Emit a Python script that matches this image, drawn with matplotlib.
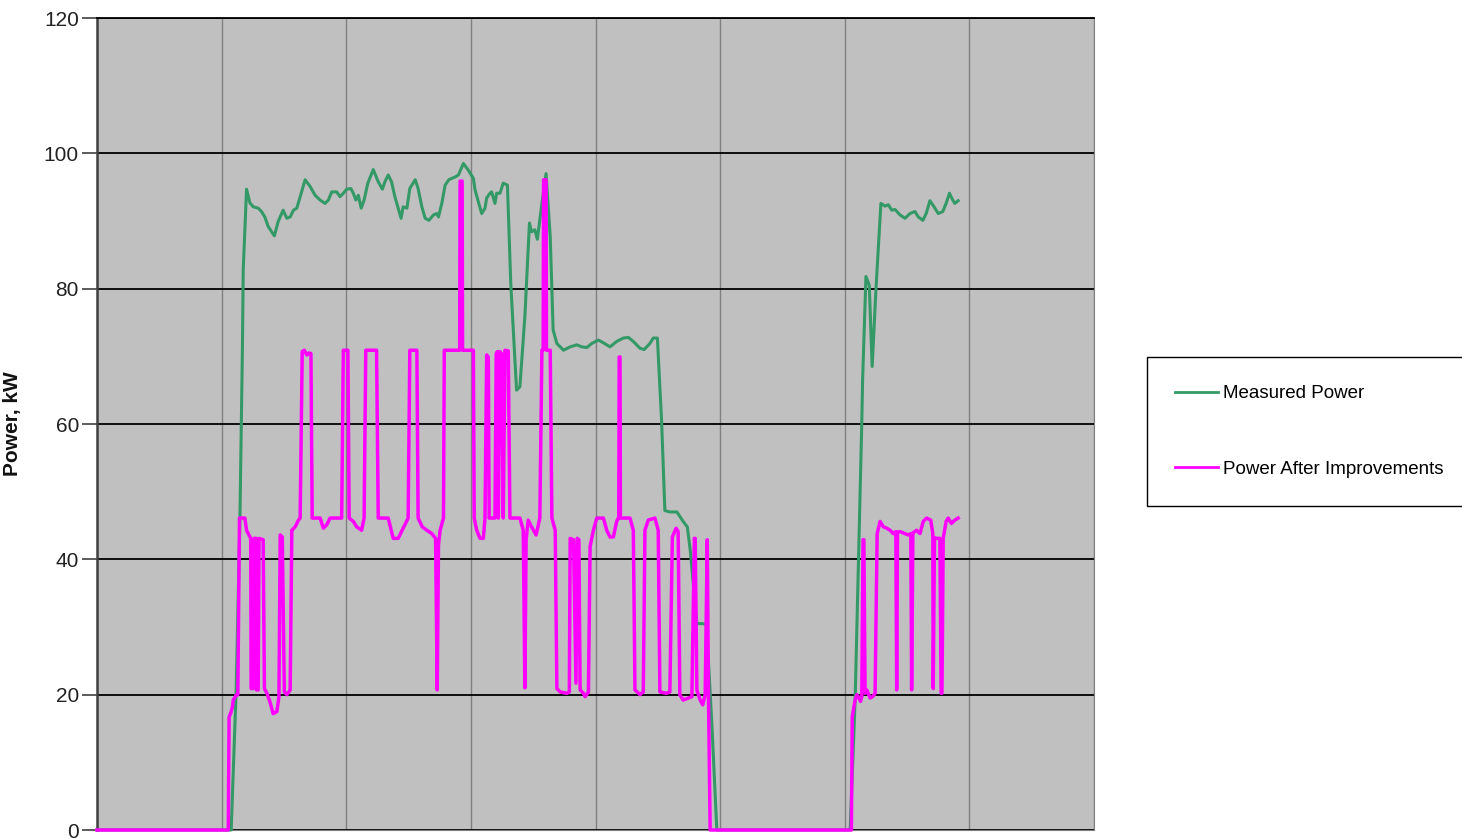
import numpy as np
import matplotlib
matplotlib.use("Agg")
import matplotlib.pyplot as plt

plt.rcParams['font.family'] = ['Liberation Sans', 'DejaVu Sans']

# (hour, kW)
measured_power = [
    (0, 0), (3.23, 0), (3.35, 20.7), (3.44, 45.8), (3.50, 70.9), (3.52, 82.8), (3.60, 94.7),
    (3.68, 92.7), (3.76, 92.1), (3.88, 91.9), (3.96, 91.4), (4.04, 90.6), (4.12, 89.2), (4.27, 87.8),
    (4.36, 89.9), (4.48, 91.6), (4.57, 90.4), (4.65, 90.6), (4.73, 91.6), (4.81, 91.9), (4.89, 93.6),
    (5.01, 96.1), (5.13, 95.1), (5.25, 93.8), (5.37, 93.1), (5.49, 92.6), (5.57, 93.1), (5.65, 94.3),
    (5.77, 94.3), (5.85, 93.6), (5.93, 94.1), (6.01, 94.7), (6.11, 94.8), (6.17, 94.1), (6.23, 93.1),
    (6.29, 93.8), (6.36, 91.9), (6.43, 93.1), (6.52, 95.6), (6.65, 97.6), (6.77, 95.8), (6.87, 94.7),
    (6.93, 95.8), (7.01, 96.8), (7.09, 95.8), (7.17, 93.6), (7.25, 91.9), (7.32, 90.4), (7.37, 92.1),
    (7.46, 91.9), (7.53, 94.8), (7.66, 96.1), (7.73, 94.8), (7.82, 92.1), (7.90, 90.4), (7.99, 90.1),
    (8.10, 90.9), (8.18, 91.1), (8.22, 90.6), (8.30, 92.6), (8.38, 95.3), (8.47, 96.1), (8.54, 96.3),
    (8.62, 96.5), (8.70, 96.8), (8.82, 98.5), (8.94, 97.5), (9.06, 96.3), (9.10, 94.6), (9.26, 91.1),
    (9.34, 91.9), (9.38, 93.4), (9.46, 94.1), (9.50, 94.3), (9.58, 92.6), (9.62, 94.1), (9.70, 94.1),
    (9.78, 95.6), (9.88, 95.3), (9.96, 80.8), (10.10, 65.0), (10.18, 65.5), (10.30, 75.9),
    (10.41, 89.7), (10.46, 88.4), (10.54, 88.7), (10.60, 87.3), (10.71, 92.6), (10.81, 97.0),
    (10.91, 87.7), (10.98, 73.9), (11.07, 71.9), (11.23, 70.9), (11.39, 71.4), (11.55, 71.7),
    (11.67, 71.4), (11.79, 71.3), (11.91, 71.9), (12.07, 72.4), (12.19, 72.0), (12.35, 71.4),
    (12.51, 72.2), (12.67, 72.7), (12.79, 72.8), (12.91, 72.2), (13.07, 71.2), (13.17, 71.0),
    (13.31, 71.9), (13.39, 72.7), (13.49, 72.7), (13.59, 60.6), (13.67, 47.2), (13.79, 47.0),
    (13.96, 47.0), (14.11, 45.6), (14.21, 44.8), (14.28, 41.4), (14.44, 30.5), (14.56, 30.5),
    (14.67, 30.4), (14.80, 15.8), (14.92, 0), (18.13, 0), (18.25, 19.2), (18.33, 39.9),
    (18.41, 60.2), (18.43, 66.5), (18.51, 81.8), (18.59, 80.5), (18.66, 68.5), (18.75, 79.8),
    (18.87, 92.6), (18.97, 92.2), (19.05, 92.4), (19.13, 91.6), (19.21, 91.7), (19.33, 90.9),
    (19.45, 90.4), (19.57, 91.1), (19.69, 91.4), (19.77, 90.6), (19.88, 90.1), (19.96, 91.1),
    (20.05, 93.0), (20.15, 92.1), (20.25, 91.1), (20.36, 91.4), (20.44, 92.6), (20.52, 94.1),
    (20.60, 93.1), (20.65, 92.6), (20.73, 93.0),
]

improved_power = [
    (0, 0), (3.16, 0), (3.18, 16.7), (3.22, 17.3), (3.26, 18.2), (3.28, 19.2), (3.36, 20.0),
    (3.39, 20.0), (3.43, 46.1), (3.56, 46.1), (3.60, 44.3), (3.66, 43.6), (3.70, 43.1), (3.71, 20.9),
    (3.76, 20.9), (3.78, 43.1), (3.83, 43.1), (3.84, 20.7), (3.88, 20.7), (3.90, 43.1), (4.00, 42.9),
    (4.03, 20.9), (4.09, 20.2), (4.16, 19.0), (4.24, 17.2), (4.33, 17.5), (4.38, 19.7), (4.41, 43.6),
    (4.46, 43.3), (4.51, 20.4), (4.57, 20.0), (4.65, 20.7), (4.69, 44.3), (4.77, 44.8), (4.85, 45.8),
    (4.89, 46.1), (4.94, 70.7), (4.99, 70.9), (5.05, 70.2), (5.10, 70.5), (5.15, 70.4), (5.18, 46.1),
    (5.37, 46.1), (5.45, 44.6), (5.53, 45.1), (5.61, 46.1), (5.89, 46.1), (5.93, 70.9), (6.04, 70.9),
    (6.07, 46.1), (6.17, 45.6), (6.25, 44.8), (6.37, 44.3), (6.43, 46.1), (6.47, 70.9), (6.73, 70.9),
    (6.77, 46.1), (7.01, 46.1), (7.13, 43.1), (7.25, 43.1), (7.37, 44.6), (7.49, 46.1), (7.53, 70.9),
    (7.70, 70.9), (7.73, 46.1), (7.83, 44.8), (7.94, 44.3), (8.06, 43.8), (8.15, 43.1), (8.19, 20.7),
    (8.22, 42.1), (8.26, 44.3), (8.34, 46.1), (8.36, 70.9), (8.73, 70.9), (8.74, 95.9), (8.79, 95.9),
    (8.80, 70.9), (9.06, 70.9), (9.08, 46.1), (9.14, 44.3), (9.22, 43.1), (9.30, 43.1), (9.34, 46.1),
    (9.38, 70.2), (9.42, 69.9), (9.44, 46.1), (9.58, 46.1), (9.61, 70.4), (9.64, 70.7), (9.66, 46.1),
    (9.70, 70.7), (9.74, 70.4), (9.78, 46.1), (9.82, 70.9), (9.90, 70.8), (9.94, 46.1), (10.18, 46.1),
    (10.26, 44.3), (10.30, 21.0), (10.33, 42.9), (10.38, 45.8), (10.46, 44.8), (10.57, 43.6),
    (10.66, 46.1), (10.71, 70.9), (10.74, 70.9), (10.75, 96.1), (10.81, 96.1), (10.82, 70.9),
    (10.91, 70.9), (10.95, 46.1), (11.03, 44.3), (11.07, 20.9), (11.15, 20.4), (11.31, 20.2),
    (11.37, 20.4), (11.39, 43.1), (11.47, 42.9), (11.53, 21.7), (11.56, 43.1), (11.60, 42.9),
    (11.63, 20.7), (11.71, 20.2), (11.75, 19.7), (11.83, 20.4), (11.87, 41.9), (11.95, 44.3),
    (12.03, 46.1), (12.19, 46.1), (12.27, 44.3), (12.35, 43.3), (12.43, 43.3), (12.51, 45.6),
    (12.55, 46.1), (12.56, 46.1), (12.57, 69.9), (12.59, 69.9), (12.60, 46.1), (12.83, 46.1),
    (12.91, 44.3), (12.95, 20.7), (13.07, 20.0), (13.15, 20.4), (13.19, 44.3), (13.27, 45.8),
    (13.43, 46.1), (13.51, 44.3), (13.55, 20.4), (13.71, 20.2), (13.79, 20.4), (13.85, 43.3),
    (13.94, 44.6), (13.99, 44.1), (14.03, 20.0), (14.11, 19.2), (14.23, 19.5), (14.32, 19.7),
    (14.38, 43.1), (14.40, 43.1), (14.44, 20.7), (14.52, 19.2), (14.58, 18.5), (14.64, 20.0),
    (14.69, 42.9), (14.72, 19.7), (14.76, 0), (18.16, 0), (18.18, 16.7), (18.19, 17.0),
    (18.22, 18.2), (18.25, 19.2), (18.29, 20.0), (18.33, 19.7), (18.38, 19.0), (18.41, 19.7),
    (18.44, 42.9), (18.46, 42.9), (18.49, 20.2), (18.53, 20.7), (18.61, 19.5), (18.67, 19.7),
    (18.73, 20.2), (18.78, 43.8), (18.85, 45.6), (18.93, 44.8), (19.01, 44.6), (19.09, 44.3),
    (19.17, 43.8), (19.23, 44.1), (19.25, 20.7), (19.27, 44.0), (19.33, 44.1), (19.45, 43.8),
    (19.53, 43.6), (19.59, 43.8), (19.61, 20.7), (19.64, 43.9), (19.73, 44.3), (19.81, 43.8),
    (19.89, 45.6), (19.97, 46.1), (20.07, 45.8), (20.12, 43.8), (20.13, 20.9), (20.16, 43.2),
    (20.21, 43.1), (20.29, 43.1), (20.32, 20.2), (20.34, 20.2), (20.37, 43.1), (20.44, 45.6),
    (20.49, 46.1), (20.57, 45.3), (20.65, 45.8), (20.73, 46.1),
]

y_ticks = [0, 20, 40, 60, 80, 100, 120]
x_grid = [0, 3, 6, 9, 12, 15, 18, 21, 24]

mx, my = np.array(measured_power).T
ix, iy = np.array(improved_power).T

fig = plt.figure(figsize=(14.62, 8.39), dpi=100)
ax = fig.add_axes([97 / 1462, 1 - 830 / 839, 997 / 1462, 812 / 839])
ax.set_facecolor('#c0c0c0')

ax.plot(mx, my, color='#339966', lw=2.2, label='Measured Power', clip_on=False, zorder=3)
ax.plot(ix, iy, color='#ff00ff', lw=2.5, label='Power After Improvements', clip_on=False, zorder=4)

ax.set_xlim(0, 24)
ax.set_ylim(0, 120)
ax.set_yticks(y_ticks)
ax.set_xticks(x_grid)
ax.tick_params(axis='x', length=0, labelbottom=False)
ax.tick_params(axis='y', length=11, width=1.2, color='#404040', pad=2,
               labelsize=15, labelcolor='#222222')

ax.grid(axis='y', color='black', lw=1.3, zorder=1)
ax.grid(axis='x', color='#808080', lw=1.0, zorder=1)
ax.set_axisbelow(True)

ax.spines['left'].set_color('#404040')
ax.spines['left'].set_linewidth(1.8)
ax.spines['top'].set_color('black')
ax.spines['top'].set_linewidth(1.3)
ax.spines['right'].set_color('#808080')
ax.spines['bottom'].set_color('#808080')

ax.set_ylabel('Power, kW', fontsize=15, fontweight='bold', color='#111111')
ax.yaxis.set_label_coords(-75 / 997, 0.5)

leg = ax.legend(loc='upper left',
                bbox_to_anchor=(1147 / 1462, 1 - 506 / 839, 340 / 1462, 149 / 839),
                bbox_transform=fig.transFigure, mode='expand', fontsize=13.5,
                frameon=True, fancybox=False, edgecolor='black', framealpha=1,
                borderpad=1.5, labelspacing=3.1, handlelength=2.3, handletextpad=0.25,
                borderaxespad=0)
leg.get_frame().set_linewidth(1.0)
for line in leg.get_lines():
    line.set_linewidth(2.0)

fig.savefig('out.png', dpi=100, facecolor='white')
